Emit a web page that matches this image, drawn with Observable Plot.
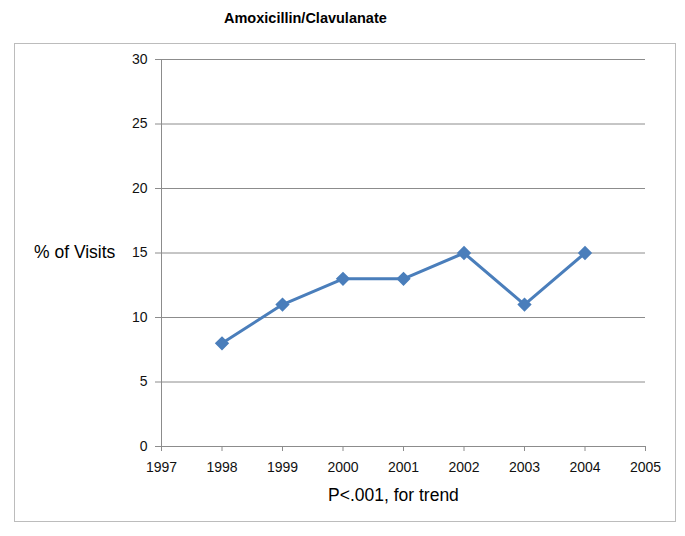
<!DOCTYPE html>
<html>
<head>
<meta charset="utf-8">
<script src="https://cdn.jsdelivr.net/npm/d3@7"></script>
<script src="https://cdn.jsdelivr.net/npm/@observablehq/plot@0.6"></script>
<style>
  body { margin: 0; background: #fff; font-family: "Liberation Sans", Arial, sans-serif; }
  #wrap { position: relative; width: 685px; height: 536px; }
  #title { position: absolute; top: 10px; left: 224px; font-size: 14.5px; font-weight: bold; color: #000; white-space: nowrap; }
  #box { position: absolute; left: 14px; top: 43px; width: 662px; height: 479px; border: 1px solid #bcbcbc; box-sizing: border-box; }
  #chart { position: absolute; left: 0; top: 43px; }
  #ylab { position: absolute; left: 34px; top: 242px; font-size: 17.5px; color: #000; white-space: nowrap; }
  #xlab { position: absolute; left: 328px; top: 485px; font-size: 17.5px; color: #000; white-space: nowrap; }
</style>
</head>
<body>
<div id="wrap">
  <div id="title">Amoxicillin/Clavulanate</div>
  <div id="box"></div>
  <div id="chart"></div>
  <div id="ylab">% of Visits</div>
  <div id="xlab">P&lt;.001, for trend</div>
</div>
<script>
const years = [1998, 1999, 2000, 2001, 2002, 2003, 2004];
const percentVisits = [8, 11, 13, 13, 15, 11, 15];
const xTicks = [1997, 1998, 1999, 2000, 2001, 2002, 2003, 2004, 2005];
const yTicks = [0, 5, 10, 15, 20, 25, 30];

const data = years.map((y, i) => ({year: y, value: percentVisits[i]}));

const chart = Plot.plot({
  width: 685,
  height: 480,
  marginTop: 16,
  marginBottom: 77,
  marginLeft: 161,
  marginRight: 40,
  style: {fontFamily: "'Liberation Sans', Arial, sans-serif", fontSize: "14px", color: "#000", background: "transparent"},
  x: {domain: [1997, 2005], label: null},
  y: {domain: [0, 30], label: null},
  marks: [
    Plot.gridY(yTicks, {stroke: "#8c8c8c", strokeOpacity: 1, strokeWidth: 1}),
    Plot.ruleX([1997], {stroke: "#8c8c8c"}),
    Plot.ruleY([0], {stroke: "#8c8c8c"}),
    Plot.axisX({ticks: xTicks, tickFormat: d => String(d), label: null, tickSize: 5, tickPadding: 11, stroke: "#8c8c8c", fill: "#111", fontSize: 14}),
    Plot.axisY({ticks: yTicks, label: null, tickSize: 6, tickPadding: 8, stroke: "#8c8c8c", fill: "#111", fontSize: 14}),
    Plot.line(data, {x: "year", y: "value", stroke: "#4a7ebb", strokeWidth: 3}),
    Plot.dot(data, {x: "year", y: "value", symbol: "diamond2", r: 5.5, fill: "#4a7ebb", stroke: "#4a7ebb"})
  ]
});
document.getElementById("chart").appendChild(chart);
</script>
</body>
</html>
